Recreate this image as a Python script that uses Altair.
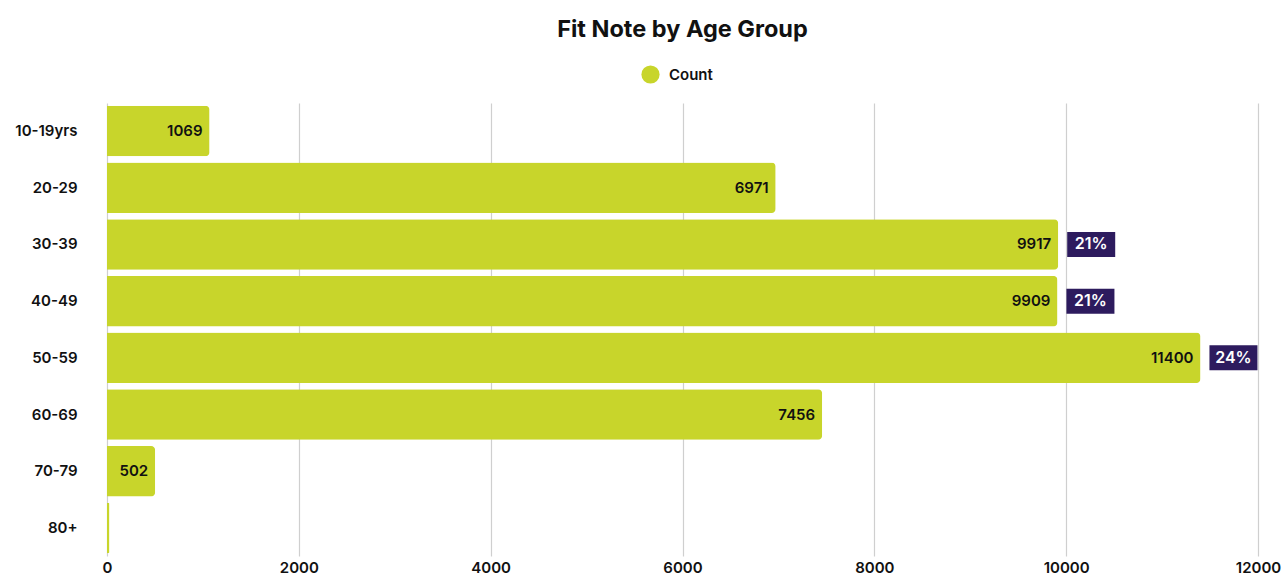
import altair as alt
import pandas as pd

groups = ["10-19yrs", "20-29", "30-39", "40-49", "50-59", "60-69", "70-79", "80+"]
counts = [1069, 6971, 9917, 9909, 11400, 7456, 502, 25]
show_value = [True, True, True, True, True, True, True, False]
badge_groups = ["30-39", "40-49", "50-59"]
badge_values = [9917, 9909, 11400]
badge_labels = ["21%", "21%", "24%"]
x_ticks = [0, 2000, 4000, 6000, 8000, 10000, 12000]

FONT = "Inter"
BAR = "#C8D52B"
BADGE = "#2D1B5E"

df = pd.DataFrame({"group": groups, "count": counts, "series": "Count",
                   "show": show_value})
bdf = pd.DataFrame({"group": badge_groups, "count": badge_values, "label": badge_labels})

y = alt.Y("group:N", sort=groups, title=None,
          scale=alt.Scale(paddingInner=0.11, paddingOuter=0.05),
          axis=alt.Axis(labelFont=FONT, labelFontSize=15, labelFontWeight=600,
                        labelColor="#111", ticks=False, domain=False,
                        labelPadding=30))
x = alt.X("count:Q", title=None,
          scale=alt.Scale(domain=[0, 12000], nice=False),
          axis=alt.Axis(values=x_ticks, labelFont=FONT, labelFontSize=15,
                        labelFontWeight=600, labelColor="#111", ticks=False,
                        domain=False, grid=True, gridColor="#cfcfcf",
                        gridWidth=1.2, labelPadding=4, labelFlush=False,
                        format="d"))

bars = alt.Chart(df).mark_bar(cornerRadiusEnd=4).encode(
    y=y, x=x,
    color=alt.Color("series:N", title=None,
                    scale=alt.Scale(range=[BAR]),
                    legend=alt.Legend(orient="none", legendX=534, legendY=-38,
                                      symbolType="circle", symbolSize=330,
                                      symbolStrokeWidth=0, labelFont=FONT,
                                      labelFontSize=15, labelFontWeight=600,
                                      labelColor="#111", labelOffset=9)),
)

values = alt.Chart(df).transform_filter("datum.show").mark_text(
    align="right", baseline="middle", dx=-7, font=FONT, fontSize=15,
    fontWeight=600, color="#111").encode(
    y=alt.Y("group:N", sort=groups), x="count:Q", text=alt.Text("count:Q", format="d"))

badges = alt.Chart(bdf).mark_bar(xOffset=9, x2Offset=57, size=25, color=BADGE).encode(
    y=alt.Y("group:N", sort=groups), x="count:Q", x2="count:Q")

badge_text = alt.Chart(bdf).mark_text(
    align="center", baseline="middle", dx=33, font=FONT, fontSize=16,
    fontWeight=600, color="white").encode(
    y=alt.Y("group:N", sort=groups), x="count:Q", text="label:N")

chart = alt.layer(bars, values, badges, badge_text).properties(
    width=1151, height=453,
    background="white",
    autosize=alt.AutoSizeParams(type="none"),
    padding={"left": 107, "top": 103, "right": 25, "bottom": 20},
    title=alt.Title("Fit Note by Age Group", font=FONT, fontSize=23.5,
                    fontWeight=700, color="#111", anchor="middle", offset=24),
).configure_view(stroke=None)

chart.save("out.html", embed_options={"renderer": "svg", "actions": False})
